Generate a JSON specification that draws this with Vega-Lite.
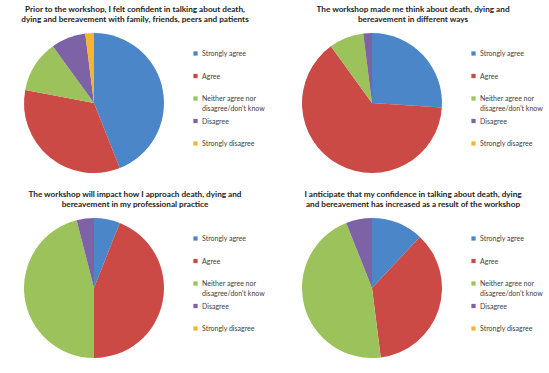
{
  "$schema": "https://vega.github.io/schema/vega-lite/v6.json",
  "background": "white",
  "padding": {"left": 21, "top": 5, "right": 0, "bottom": 0},
  "data": {"values": [
    {"panel": 1, "k": 1, "label": "Strongly agree", "value": 44},
    {"panel": 1, "k": 2, "label": "Agree", "value": 34},
    {"panel": 1, "k": 3, "label": "Neither agree nor disagree/don't know", "value": 12},
    {"panel": 1, "k": 4, "label": "Disagree", "value": 8},
    {"panel": 1, "k": 5, "label": "Strongly disagree", "value": 2},
    {"panel": 2, "k": 1, "label": "Strongly agree", "value": 26},
    {"panel": 2, "k": 2, "label": "Agree", "value": 64},
    {"panel": 2, "k": 3, "label": "Neither agree nor disagree/don't know", "value": 8},
    {"panel": 2, "k": 4, "label": "Disagree", "value": 2},
    {"panel": 2, "k": 5, "label": "Strongly disagree", "value": 0},
    {"panel": 3, "k": 1, "label": "Strongly agree", "value": 6},
    {"panel": 3, "k": 2, "label": "Agree", "value": 44},
    {"panel": 3, "k": 3, "label": "Neither agree nor disagree/don't know", "value": 46},
    {"panel": 3, "k": 4, "label": "Disagree", "value": 4},
    {"panel": 3, "k": 5, "label": "Strongly disagree", "value": 0},
    {"panel": 4, "k": 1, "label": "Strongly agree", "value": 12},
    {"panel": 4, "k": 2, "label": "Agree", "value": 36},
    {"panel": 4, "k": 3, "label": "Neither agree nor disagree/don't know", "value": 46},
    {"panel": 4, "k": 4, "label": "Disagree", "value": 6},
    {"panel": 4, "k": 5, "label": "Strongly disagree", "value": 0}
  ]},
  "columns": 2,
  "spacing": {"row": 17, "column": 37},
  "concat": [
    {
      "title": {"text": ["Prior to the workshop, I felt confident in talking about death,", "dying and bereavement with family, friends, peers and patients"]},
      "width": 140, "height": 140,
      "transform": [{"filter": "datum.panel == 1"}],
      "mark": {"type": "arc"},
      "encoding": {
        "theta": {"field": "value", "type": "quantitative", "stack": true},
        "order": {"field": "k", "type": "quantitative"},
        "color": {"field": "label", "type": "nominal",
          "scale": {"domain": ["Strongly agree", "Agree", "Neither agree nor disagree/don't know", "Disagree", "Strongly disagree"],
                    "range": ["#4A86C8", "#CB4A46", "#9BC25B", "#7D62A6", "#F7B52E"]},
          "legend": {"title": " ", "labelExpr": "datum.label == \"Neither agree nor disagree/don't know\" ? [\"Neither agree nor\", \"disagree/don't know\"] : [datum.label, \" \"]",
                     "encode": {"labels": {"update": {"lineHeight": {"value": 9.5}, "dy": {"value": -3.5}}}}}}
      }
    },
    {
      "title": {"text": ["The workshop made me think about death, dying and", "bereavement in different ways"]},
      "width": 140, "height": 140,
      "transform": [{"filter": "datum.panel == 2"}],
      "mark": {"type": "arc"},
      "encoding": {
        "theta": {"field": "value", "type": "quantitative", "stack": true},
        "order": {"field": "k", "type": "quantitative"},
        "color": {"field": "label", "type": "nominal",
          "scale": {"domain": ["Strongly agree", "Agree", "Neither agree nor disagree/don't know", "Disagree", "Strongly disagree"],
                    "range": ["#4A86C8", "#CB4A46", "#9BC25B", "#7D62A6", "#F7B52E"]},
          "legend": {"title": " ", "labelExpr": "datum.label == \"Neither agree nor disagree/don't know\" ? [\"Neither agree nor\", \"disagree/don't know\"] : [datum.label, \" \"]",
                     "encode": {"labels": {"update": {"lineHeight": {"value": 9.5}, "dy": {"value": -3.5}}}}}}
      }
    },
    {
      "title": {"text": ["The workshop will impact how I approach death, dying and", "bereavement in my professional practice"]},
      "width": 140, "height": 140,
      "transform": [{"filter": "datum.panel == 3"}],
      "mark": {"type": "arc"},
      "encoding": {
        "theta": {"field": "value", "type": "quantitative", "stack": true},
        "order": {"field": "k", "type": "quantitative"},
        "color": {"field": "label", "type": "nominal",
          "scale": {"domain": ["Strongly agree", "Agree", "Neither agree nor disagree/don't know", "Disagree", "Strongly disagree"],
                    "range": ["#4A86C8", "#CB4A46", "#9BC25B", "#7D62A6", "#F7B52E"]},
          "legend": {"title": " ", "labelExpr": "datum.label == \"Neither agree nor disagree/don't know\" ? [\"Neither agree nor\", \"disagree/don't know\"] : [datum.label, \" \"]",
                     "encode": {"labels": {"update": {"lineHeight": {"value": 9.5}, "dy": {"value": -3.5}}}}}}
      }
    },
    {
      "title": {"text": ["I anticipate that my confidence in talking about death, dying", "and bereavement has increased as a result of the workshop"]},
      "width": 140, "height": 140,
      "transform": [{"filter": "datum.panel == 4"}],
      "mark": {"type": "arc"},
      "encoding": {
        "theta": {"field": "value", "type": "quantitative", "stack": true},
        "order": {"field": "k", "type": "quantitative"},
        "color": {"field": "label", "type": "nominal",
          "scale": {"domain": ["Strongly agree", "Agree", "Neither agree nor disagree/don't know", "Disagree", "Strongly disagree"],
                    "range": ["#4A86C8", "#CB4A46", "#9BC25B", "#7D62A6", "#F7B52E"]},
          "legend": {"title": " ", "labelExpr": "datum.label == \"Neither agree nor disagree/don't know\" ? [\"Neither agree nor\", \"disagree/don't know\"] : [datum.label, \" \"]",
                     "encode": {"labels": {"update": {"lineHeight": {"value": 9.5}, "dy": {"value": -3.5}}}}}}
      }
    }
  ],
  "resolve": {"scale": {"theta": "independent"}, "legend": {"color": "independent"}},
  "config": {
    "view": {"stroke": null},
    "title": {"anchor": "middle", "frame": "group", "dx": 41, "offset": 9, "font": "Lato", "fontSize": 8.2, "fontWeight": "bold", "color": "#222222", "lineHeight": 9.5},
    "legend": {
      "orient": "right", "offset": 28, "titleFontSize": 8, "titlePadding": 9,
      "symbolType": "square", "symbolSize": 18, "symbolStrokeWidth": 0,
      "labelFont": "Lato", "labelFontSize": 7, "labelColor": "#404040", "labelLimit": 200,
      "labelBaseline": "top", "labelOffset": 3, "rowPadding": 5.5
    }
  }
}
